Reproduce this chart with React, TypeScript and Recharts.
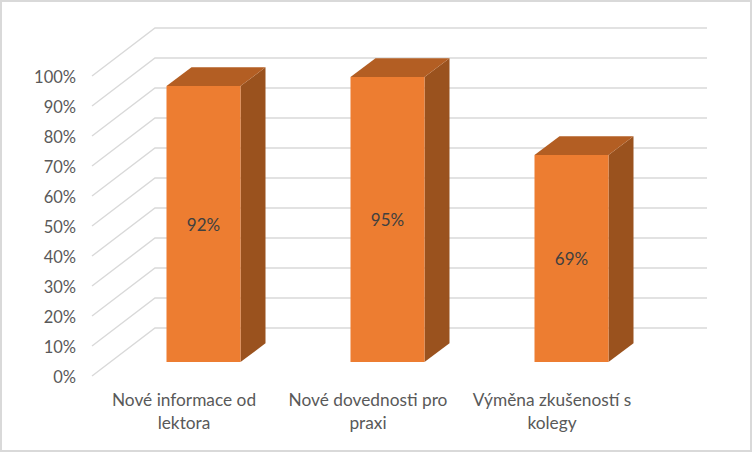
import React from "react";
import { BarChart, Bar, XAxis, YAxis, CartesianGrid, LabelList } from "recharts";

const categoryLines = [
  ["Nové informace od", "lektora"],
  ["Nové dovednosti pro", "praxi"],
  ["Výměna zkušeností s", "kolegy"],
];
const categories = categoryLines.map((l) => l.join(" "));
const values = [92, 95, 69];
const yTicks = [0, 10, 20, 30, 40, 50, 60, 70, 80, 90, 100];

const data = categories.map((name, i) => ({ name, value: values[i] }));

const FONT = "Lato, Carlito, sans-serif";
const TEXT = "#595959";
// depth projection of the 3D look
const WALL_DX = 63;
const WALL_DY = -48;
const BAR_SHIFT_X = 19.5;
const BAR_SHIFT_Y = -14;
const BAR_DX = 25;
const BAR_DY = -18.7;

function GridLine(props: any) {
  const { x1, x2, y1 } = props;
  const pts = `${x1},${y1} ${x1 + WALL_DX},${y1 + WALL_DY} ${x2 + WALL_DX},${y1 + WALL_DY}`;
  return <polyline points={pts} fill="none" stroke="#D9D9D9" strokeWidth={1.4} />;
}

function Bar3D(props: any) {
  const { x, y, width, height } = props;
  const l = x + BAR_SHIFT_X;
  const t = y + BAR_SHIFT_Y;
  const r = l + width;
  const b = t + height;
  return (
    <g>
      <polygon
        points={`${r},${t} ${r + BAR_DX},${t + BAR_DY} ${r + BAR_DX},${b + BAR_DY} ${r},${b}`}
        fill="#9A521E"
      />
      <polygon
        points={`${l},${t} ${l + BAR_DX},${t + BAR_DY} ${r + BAR_DX},${t + BAR_DY} ${r},${t}`}
        fill="#B35E23"
      />
      <rect x={l} y={t} width={width} height={height} fill="#ED7D31" />
    </g>
  );
}

function BarValue(props: any) {
  const { x, y, width, height, value } = props;
  return (
    <text
      x={x + BAR_SHIFT_X + width / 2}
      y={y + BAR_SHIFT_Y + height / 2 + 6.5}
      textAnchor="middle"
      fontFamily={FONT}
      fontSize={17}
      fill="#404040"
    >
      {value}%
    </text>
  );
}

function CategoryTick(props: any) {
  const { x, y, index } = props;
  const lines = categoryLines[index] || [];
  return (
    <g>
      {lines.map((line, i) => (
        <text
          key={i}
          x={x}
          y={y + 22 + i * 23}
          textAnchor="middle"
          fontFamily={FONT}
          fontSize={17.3}
          fill={TEXT}
        >
          {line}
        </text>
      ))}
    </g>
  );
}

export default function App() {
  return (
    <div
      style={{
        position: "absolute",
        left: 0,
        top: 0,
        width: 752,
        height: 452,
        boxSizing: "border-box",
        border: "2px solid #D9D9D9",
        background: "#FFFFFF",
        overflow: "hidden",
      }}
    >
      <div style={{ position: "absolute", left: -2, top: -2 }}>
        <BarChart
          width={752}
          height={452}
          data={data}
          margin={{ top: 76, right: 108, bottom: 0, left: 0 }}
          barCategoryGap={55}
        >
          <CartesianGrid horizontal={GridLine as any} vertical={false} />
          <XAxis
            dataKey="name"
            axisLine={false}
            tickLine={false}
            height={76}
            interval={0}
            tick={CategoryTick as any}
          />
          <YAxis
            width={92}
            domain={[0, 100]}
            ticks={yTicks}
            interval={0}
            axisLine={false}
            tickLine={false}
            tickSize={0}
            tickMargin={16}
            tickFormatter={(v: number) => `${v}%`}
            tick={{ fontFamily: FONT, fontSize: 16.5, fill: TEXT, dy: 1 }}
          />
          <Bar dataKey="value" barSize={74} shape={Bar3D as any} isAnimationActive={false}>
            <LabelList dataKey="value" content={BarValue as any} />
          </Bar>
        </BarChart>
      </div>
    </div>
  );
}
